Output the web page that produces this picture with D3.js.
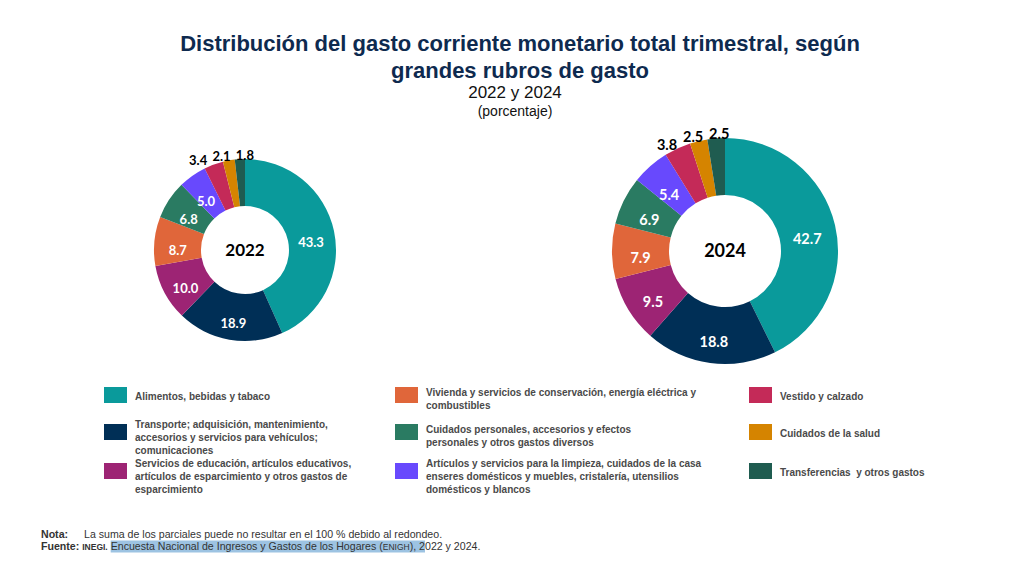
<!DOCTYPE html>
<html>
<head>
<meta charset="utf-8">
<script src="https://cdn.jsdelivr.net/npm/d3@7"></script>
<style>
    body { margin: 0; background: #fff; }
    svg { display: block; }
</style>
</head>
<body>
<svg id="chart" width="1024" height="568"></svg>
<script>
// --- data ---
const titleLines = ["Distribución del gasto corriente monetario total trimestral, según", "grandes rubros de gasto"];
const subtitle = "2022 y 2024";
const unitLabel = "(porcentaje)";

const categories = [
    "Alimentos, bebidas y tabaco",
    "Transporte; adquisición, mantenimiento, accesorios y servicios para vehículos; comunicaciones",
    "Servicios de educación, artículos educativos, artículos de esparcimiento y otros gastos de esparcimiento",
    "Vivienda y servicios de conservación, energía eléctrica y combustibles",
    "Cuidados personales, accesorios y efectos personales y otros gastos diversos",
    "Artículos y servicios para la limpieza, cuidados de la casa enseres domésticos y muebles, cristalería, utensilios domésticos y blancos",
    "Vestido y calzado",
    "Cuidados de la salud",
    "Transferencias  y otros gastos"
];
// legend text broken the way the reference wraps it
const legendLines = [
    ["Alimentos, bebidas y tabaco"],
    ["Transporte; adquisición, mantenimiento,", "accesorios y servicios para vehículos;", "comunicaciones"],
    ["Servicios de educación, artículos educativos,", "artículos de esparcimiento y otros gastos de", "esparcimiento"],
    ["Vivienda y servicios de conservación, energía eléctrica y", "combustibles"],
    ["Cuidados personales, accesorios y efectos", "personales y otros gastos diversos"],
    ["Artículos y servicios para la limpieza, cuidados de la casa", "enseres domésticos y muebles, cristalería, utensilios", "domésticos y blancos"],
    ["Vestido y calzado"],
    ["Cuidados de la salud"],
    ["Transferencias\u00a0 y otros gastos"]
];
const colors = ["#0A9A9B", "#002F56", "#9D2474", "#E0663A", "#2A7B62", "#6849FD", "#C42A58", "#D58400", "#1F5C50"];

const years = ["2022", "2024"];
const values2022 = [43.3, 18.9, 10.0, 8.7, 6.8, 5.0, 3.4, 2.1, 1.8];
const values2024 = [42.7, 18.8, 9.5, 7.9, 6.9, 5.4, 3.8, 2.5, 2.5];

const noteText = "La suma de los parciales puede no resultar en el 100 % debido al redondeo.";

// --- layout ---
const W = 1024, H = 568;
const FONT = "'Liberation Sans', Arial, sans-serif";
const LABEL_FONT = "Lato, 'Open Sans', sans-serif";
const donuts = [
    {year: years[0], values: values2022, cx: 245, cy: 250, outer: 91, inner: 44, fontSize: 13, yearSize: 17},
    {year: years[1], values: values2024, cx: 725, cy: 251, outer: 113, inner: 56, fontSize: 14.5, yearSize: 18}
];
const OUTSIDE_BELOW = 4; // slices smaller than this get their value outside the ring
const FOOT_SIZE = 10.6, FOOT_SMALL = 8.5;

const svg = d3.select("#chart");
svg.append("rect").attr("width", W).attr("height", H).attr("fill", "#fff");

/* Title block */
const titleSel = svg.append("g").attr("font-family", FONT).attr("text-anchor", "middle");
titleSel.selectAll("text.title")
    .data(titleLines)
    .join("text")
    .classed("title", true)
    .attr("x", 520)
    .attr("y", (d, i) => 51 + i * 27)
    .attr("font-size", 22)
    .attr("font-weight", "bold")
    .attr("fill", "#0E2A4F")
    .text(d => d);
titleSel.append("text")
    .attr("x", 515).attr("y", 98)
    .attr("font-size", 17).attr("fill", "#111")
    .text(subtitle);
titleSel.append("text")
    .attr("x", 515).attr("y", 116)
    .attr("font-size", 14).attr("fill", "#111")
    .text(unitLabel);

/* Donuts */
const pie = d3.pie().sort(null).value(d => d);

donuts.forEach(spec => {
    const g = svg.append("g").attr("transform", `translate(${spec.cx},${spec.cy})`);
    const arcs = pie(spec.values);
    const arc = d3.arc().innerRadius(spec.inner).outerRadius(spec.outer);
    const midR = (spec.inner + spec.outer) / 2;
    const labelArc = d3.arc().innerRadius(midR).outerRadius(midR);

    g.selectAll("path")
        .data(arcs)
        .join("path")
        .attr("d", arc)
        .attr("fill", (d, i) => colors[i]);

    // values inside the ring
    g.selectAll("text.inside")
        .data(arcs.filter(d => d.data >= OUTSIDE_BELOW))
        .join("text")
        .classed("inside", true)
        .attr("transform", d => {
            const [x, y] = labelArc.centroid(d);
            return `translate(${x},${y + 7})`;
        })
        .attr("text-anchor", "middle")
        .attr("dy", "0.35em")
        .attr("font-family", LABEL_FONT)
        .attr("font-weight", "bold")
        .attr("font-size", spec.fontSize)
        .attr("fill", "#fff")
        .text(d => d3.format(".1f")(d.data));

    // small slices: values outside, spread leftwards so they don't collide
    const outside = arcs.filter(d => d.data < OUTSIDE_BELOW).map(d => {
        const a = (d.startAngle + d.endAngle) / 2;
        const r = spec.outer + 4;
        return {d, x: Math.sin(a) * r, y: -Math.cos(a) * r};
    }).sort((p, q) => p.x - q.x);

    const outSel = g.selectAll("text.outside")
        .data(outside)
        .join("text")
        .classed("outside", true)
        .attr("text-anchor", "middle")
        .attr("dy", "0.35em")
        .attr("font-family", LABEL_FONT)
        .attr("font-weight", "bold")
        .attr("font-size", spec.fontSize)
        .attr("fill", "#000")
        .text(p => d3.format(".1f")(p.d.data));

    const widths = outSel.nodes().map(n => n.getComputedTextLength());
    const gap = spec.fontSize * 0.4;
    const meanX = d3.mean(outside, p => p.x);
    const lastX = outside[outside.length - 1].x;
    for (let i = 1; i < outside.length; i++) {
        const minX = outside[i - 1].x + (widths[i - 1] + widths[i]) / 2 + gap;
        if (outside[i].x < minX) outside[i].x = minX;
    }
    // halfway between keeping the group centred and keeping the top-most label in place
    const shiftMean = meanX - d3.mean(outside, p => p.x);
    const shiftLast = lastX - outside[outside.length - 1].x;
    const shift = (shiftMean + shiftLast) / 2;
    outside.forEach(p => p.x += shift);
    outSel.attr("x", p => p.x).attr("y", p => p.y);

    // year in the hole
    g.append("text")
        .attr("text-anchor", "middle")
        .attr("dy", "0.35em")
        .attr("font-family", LABEL_FONT)
        .attr("font-weight", "bold")
        .attr("font-size", spec.yearSize)
        .attr("fill", "#000")
        .text(spec.year);
});

/* Legend: three columns of three */
const legendCols = [104, 395, 749];
const legendRows = [387, 424, 463];
const firstBaseline = {1: 13, 2: 9, 3: 4};
const legend = svg.append("g").attr("font-family", FONT);

const items = legend.selectAll("g.item")
    .data(categories)
    .join("g")
    .classed("item", true)
    .attr("transform", (d, i) => `translate(${legendCols[Math.floor(i / 3)]},${legendRows[i % 3]})`);

items.append("rect")
    .attr("width", 23).attr("height", 16)
    .attr("fill", (d, i) => colors[i]);

items.append("text")
    .attr("x", 31)
    .attr("font-size", 10)
    .attr("font-weight", "bold")
    .attr("fill", "#4A4A4A")
    .each(function (d, i) {
        const lines = legendLines[i];
        d3.select(this).selectAll("tspan")
            .data(lines)
            .join("tspan")
            .attr("x", 31)
            .attr("y", (l, k) => firstBaseline[lines.length] + k * 13)
            .text(l => l);
    });

/* Footnotes */
const foot = svg.append("g").attr("font-family", FONT).attr("fill", "#333");
foot.append("text").attr("x", 41).attr("y", 538).attr("font-size", FOOT_SIZE).attr("font-weight", "bold").text("Nota:");
foot.append("text").attr("x", 84).attr("y", 538).attr("font-size", FOOT_SIZE).text(noteText);

// source line is laid out piece by piece so the highlighted stretch can get its background
const sourcePieces = [
    {t: "Fuente:", size: FOOT_SIZE, bold: true},
    {t: "\u00a0", size: FOOT_SIZE},
    {t: "INEGI.", size: FOOT_SMALL, bold: true},
    {t: "\u00a0", size: FOOT_SIZE},
    {t: "Encuesta Nacional de Ingresos y Gastos de los Hogares (", size: FOOT_SIZE, hi: true},
    {t: "ENIGH", size: FOOT_SMALL, hi: true},
    {t: "), 2", size: FOOT_SIZE, hi: true},
    {t: "022 y 2024.", size: FOOT_SIZE}
];
const hiRect = foot.append("rect").attr("fill", "#9DC3E2");
let cursor = 41, hiStart = null, hiEnd = null;
sourcePieces.forEach(p => {
    const t = foot.append("text")
        .attr("x", cursor).attr("y", 550)
        .attr("font-size", p.size)
        .attr("font-weight", p.bold ? "bold" : "normal")
        .text(p.t);
    const w = t.node().getComputedTextLength();
    if (p.hi) {
        if (hiStart === null) hiStart = cursor;
        hiEnd = cursor + w;
    }
    cursor += w;
});
hiRect.attr("x", hiStart).attr("y", 540.5).attr("width", hiEnd - hiStart).attr("height", 12);
</script>
</body>
</html>
